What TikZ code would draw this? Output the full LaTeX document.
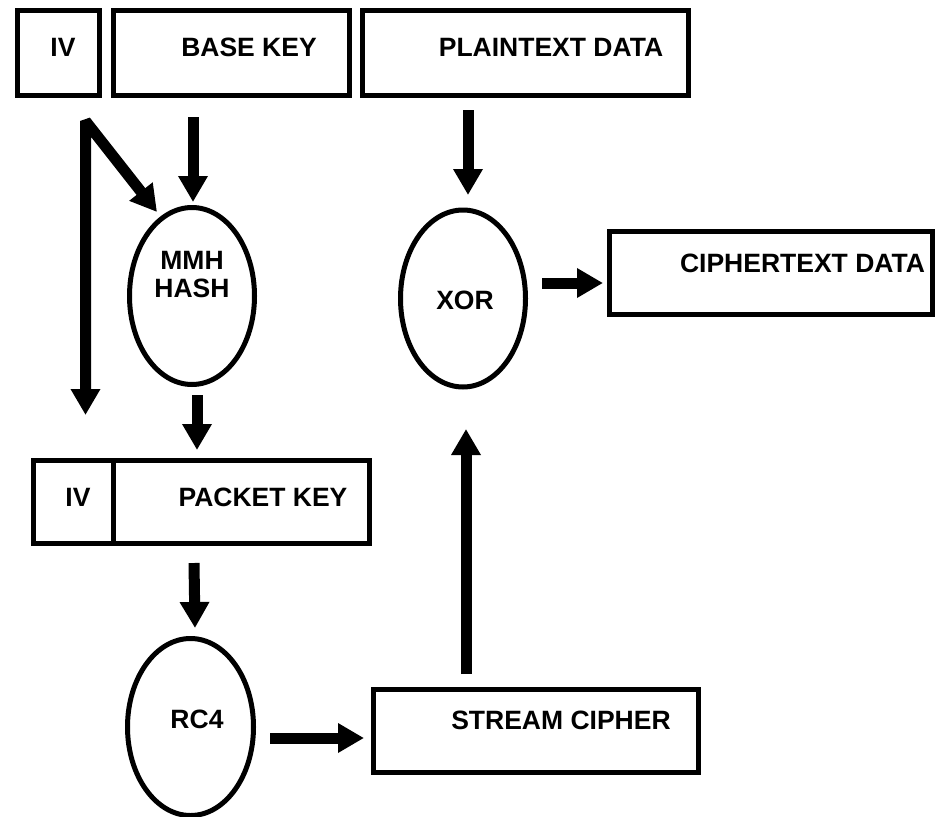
\documentclass[tikz,border=0pt]{standalone}
\usepackage{fontspec}
\setmainfont{Liberation Sans}
\usetikzlibrary{arrows.meta,shapes.geometric}
\begin{document}
\begin{tikzpicture}[x=1pt,y=-1pt,
  box/.style={draw,line width=5pt,rectangle,inner sep=0pt,minimum height=84pt},
  oval/.style={draw,line width=5pt,ellipse,inner sep=0pt,minimum width=125pt,minimum height=177pt},
  lbl/.style={font=\fontsize{26.5}{28}\selectfont\bfseries,inner sep=0pt,align=center},
  bigarrow/.style={line width=11pt,-{Triangle[width=28pt,length=26pt]}},
  dblarrow/.style={line width=11pt,line join=bevel,{Triangle[width=28pt,length=26pt]}-{Triangle[width=28pt,length=26pt]}}]
\useasboundingbox (0,0) rectangle (941,816);
% top boxes
\node[box,minimum width=82pt] (iv) at (58,53) {};
\node[box,minimum width=236pt] (basekey) at (231,53) {};
\node[box,minimum width=326pt] (plain) at (525,53) {};
\node[lbl] (ivtxt) at (63,47) {IV};
\node[lbl] (bktxt) at (249,47) {BASE KEY};
\node[lbl] (pltxt) at (551,47) {PLAINTEXT DATA};
% ellipses
\node[oval] (mmh) at (192,296) {};
\node[lbl] (mmhtxt) at (192,275) {MMH\\HASH};
\node[oval] (xor) at (463,298.5) {};
\node[lbl] (xortxt) at (465,300) {XOR};
\node[oval,minimum width=126pt] (rc4) at (190.5,727) {};
\node[lbl] (rc4txt) at (197,719) {RC4};
% ciphertext box
\node[box,minimum width=323pt,minimum height=83pt] (cipher) at (771,273) {};
\node[lbl] (citxt) at (802.5,263) {CIPHERTEXT DATA};
% packet key box
\node[box,minimum width=79.5pt,minimum height=83pt] (piv) at (73.25,502) {};
\node[box,minimum width=256.5pt,minimum height=83pt] (pkey) at (241.25,502) {};
\node[lbl] (pivtxt) at (78,497) {IV};
\node[lbl] (pktxt) at (263,497) {PACKET KEY};
% stream cipher box
\node[box,minimum width=325pt,minimum height=83pt] (stream) at (536,731) {};
\node[lbl] (sttxt) at (561,720) {STREAM CIPHER};
% arrow end points
\coordinate (ivcorner) at (85.5,121);
\coordinate (ivdown) at (85.5,415);
\coordinate (mmhin1) at (157,212);
\coordinate (bkout) at (193,117);
\coordinate (mmhin2) at (193,202);
\coordinate (plout) at (468,110);
\coordinate (xorin1) at (468,195);
\coordinate (xorout) at (542,283);
\coordinate (ciin) at (603,283);
\coordinate (mmhout) at (197,395);
\coordinate (pkin) at (197,450);
\coordinate (pkout) at (194,563);
\coordinate (rc4in) at (195,628);
\coordinate (rc4out) at (270,738);
\coordinate (stin) at (364,738);
\coordinate (stout) at (466,674);
\coordinate (xorin2) at (466,429);
% arrows
\draw[dblarrow] (ivdown) -- (ivcorner) -- (mmhin1);
\draw[bigarrow] (bkout) -- (mmhin2);
\draw[bigarrow] (plout) -- (xorin1);
\draw[bigarrow] (xorout) -- (ciin);
\draw[bigarrow] (mmhout) -- (pkin);
\draw[bigarrow] (pkout) -- (rc4in);
\draw[bigarrow] (rc4out) -- (stin);
\draw[bigarrow] (stout) -- (xorin2);
\end{tikzpicture}
\end{document}
